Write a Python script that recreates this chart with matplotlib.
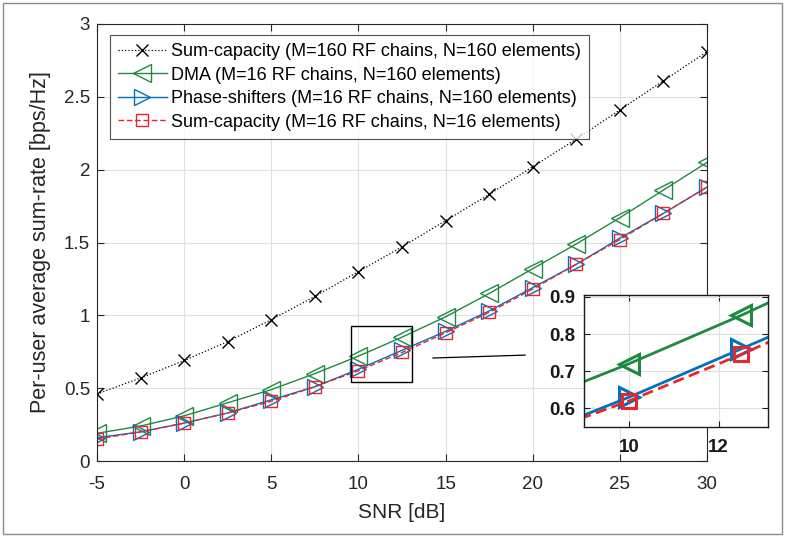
import matplotlib
matplotlib.use("Agg")
import matplotlib.pyplot as plt
from matplotlib.patches import Rectangle

plt.rcParams['font.family'] = ['Liberation Sans', 'DejaVu Sans']
plt.rcParams['axes.unicode_minus'] = False

snr = [-5, -2.5, 0, 2.5, 5, 7.5, 10, 12.5, 15, 17.5, 20, 22.5, 25, 27.5, 30]
sumcap160 = [0.46, 0.57, 0.69, 0.82, 0.97, 1.13, 1.30, 1.47, 1.65, 1.83, 2.02, 2.21, 2.41, 2.61, 2.81]
dma = [0.19, 0.24, 0.31, 0.40, 0.49, 0.60, 0.72, 0.85, 0.99, 1.15, 1.32, 1.49, 1.67, 1.86, 2.05]
phase = [0.16, 0.20, 0.26, 0.33, 0.42, 0.51, 0.63, 0.76, 0.89, 1.03, 1.19, 1.35, 1.53, 1.70, 1.88]
sumcap16 = [0.15, 0.20, 0.26, 0.33, 0.41, 0.51, 0.62, 0.745, 0.88, 1.02, 1.18, 1.35, 1.52, 1.70, 1.88]

labels = ['Sum-capacity (M=160 RF chains, N=160 elements)',
          'DMA (M=16 RF chains, N=160 elements)',
          'Phase-shifters (M=16 RF chains, N=160 elements)',
          'Sum-capacity (M=16 RF chains, N=16 elements)']

xticks = [-5, 0, 5, 10, 15, 20, 25, 30]
yticks = [0, 0.5, 1, 1.5, 2, 2.5, 3]
ytick_labels = ['0', '0.5', '1', '1.5', '2', '2.5', '3']

C_BLACK = 'black'
C_GREEN = '#1f8a3f'
C_BLUE = '#0072BD'
C_RED = '#e8262b'
TICK_C = '#262626'

fig = plt.figure(figsize=(7.85, 5.37), dpi=100)
ax = fig.add_axes([97/785, 1 - 461/537, 610/785, 437/537])

def draw(a, lw_scale=1.0, ms_scale=1.0, mew=1.0):
    a.plot(snr, sumcap160, ':', color=C_BLACK, lw=0.9*lw_scale, marker='x', ms=9*ms_scale, mew=mew, label=labels[0])
    a.plot(snr, dma, '-', color=C_GREEN, lw=1.0*lw_scale, marker='<', ms=13*ms_scale, mfc='none', mew=mew, label=labels[1])
    a.plot(snr, phase, '-', color=C_BLUE, lw=1.0*lw_scale, marker='>', ms=12*ms_scale, mfc='none', mew=mew, label=labels[2])
    a.plot(snr, sumcap16, '--', color=C_RED, lw=1.0*lw_scale, marker='s', ms=9*ms_scale, mfc='none', mew=mew,
           dashes=(4, 2), label=labels[3])

draw(ax)
ax.set_xlim(-5, 30)
ax.set_ylim(0, 3)
ax.set_xticks(xticks)
ax.set_yticks(yticks)
ax.set_yticklabels(ytick_labels)
ax.grid(True, color='#e0e0e0', lw=0.8)
ax.set_axisbelow(True)
ax.tick_params(direction='in', top=True, right=True, labelsize=13.5, colors=TICK_C, length=5)
ax.tick_params(axis='x', pad=11)
ax.tick_params(axis='y', pad=5)
for s in ax.spines.values():
    s.set_color(TICK_C)
    s.set_linewidth(0.8)
ax.set_xlabel('SNR [dB]', fontsize=15, color=TICK_C, labelpad=7)
ax.set_ylabel('Per-user average sum-rate [bps/Hz]', fontsize=15.5, color=TICK_C, labelpad=9)

leg = ax.legend(loc='upper left', bbox_to_anchor=(0.021, 0.975), fontsize=13, frameon=True,
                fancybox=False, edgecolor=TICK_C, handlelength=2.7, borderpad=0.45,
                labelspacing=0.36, handletextpad=0.25, borderaxespad=0)
leg.get_frame().set_linewidth(0.8)

# zoom rectangle and connector
zx0, zx1, zy0, zy1 = 9.6, 13.1, 0.54, 0.93
ax.add_patch(Rectangle((zx0, zy0), zx1 - zx0, zy1 - zy0, fill=False, ec='black', lw=1.0, zorder=5))
ax.plot([14.28, 19.56], [0.707, 0.727], color='black', lw=0.9, zorder=5)

# inset
ins = fig.add_axes([584/785, 1 - 427/537, 184/785, 132/537])
draw(ins, lw_scale=2.0, ms_scale=1.15, mew=2.2)
ins.set_xlim(9, 13.1)
ins.set_ylim(0.55, 0.905)
ins.set_xticks([10, 12])
ins.set_yticks([0.6, 0.7, 0.8, 0.9])
ins.set_yticklabels(['0.6', '0.7', '0.8', '0.9'])
ins.grid(True, color='#e0e0e0', lw=0.8)
ins.set_axisbelow(True)
ins.tick_params(direction='in', top=True, right=True, labelsize=13.5, colors='#1a1a1a', length=4)
ins.tick_params(axis='x', pad=9)
ins.tick_params(axis='y', pad=6)
for lab in ins.get_xticklabels() + ins.get_yticklabels():
    lab.set_fontweight('bold')
for s in ins.spines.values():
    s.set_color('#1a1a1a')
    s.set_linewidth(1.0)

# outer gray frame
fig.add_artist(Rectangle((3/785, 3/537), 779/785, 531/537, transform=fig.transFigure,
                         fill=False, ec='#8c8c8c', lw=1.0))

fig.savefig('out.png', dpi=100)
